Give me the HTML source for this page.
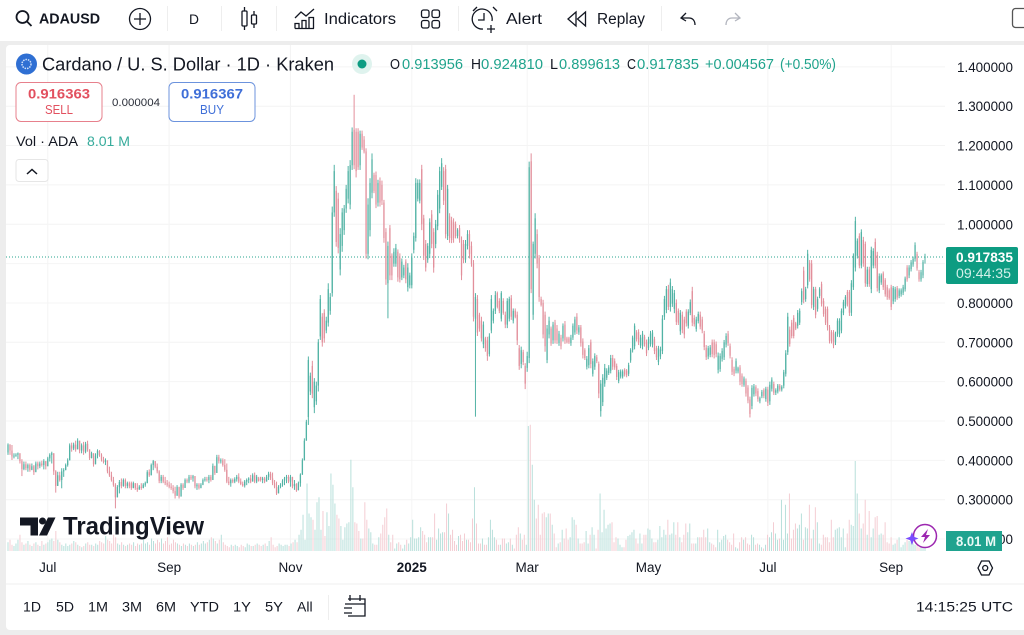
<!DOCTYPE html>
<html lang="en">
<head>
<meta charset="utf-8">
<title>ADAUSD chart</title>
<style>
html,body{margin:0;padding:0;background:#fff;width:1024px;height:635px;overflow:hidden}
svg{display:block;font-family:"Liberation Sans",sans-serif}
text{fill:#131722}
.ic{fill:none;stroke:#131722;stroke-width:1.3}
.up{fill:#1fa38c}
</style>
</head>
<body>
<svg id="page" xmlns="http://www.w3.org/2000/svg" width="1024" height="635" viewBox="0 0 1024 635">
  <rect width="1024" height="635" fill="#ededed"/>
  <rect x="0" y="0" width="1024" height="41" fill="#fff"/>
  <rect x="6" y="45" width="1030" height="585" rx="4" fill="#fff"/>

  <g id="grid"></g>
  <g id="volumes"></g>
  <line x1="6" x2="945" y1="257" y2="257" stroke="#2aa58f" stroke-width="1" stroke-dasharray="1 2"/>
  <g id="candles"></g>
  <g id="price-axis"></g>
  <g id="time-axis"></g>

  <!-- toolbar -->
  <g>
    <circle class="ic" style="stroke-width:1.8" cx="22.5" cy="17" r="6"/><line class="ic" style="stroke-width:1.8" x1="27" y1="21.5" x2="31.5" y2="26"/>
    <text x="39" y="23.5" font-size="15" font-weight="700" textLength="61" lengthAdjust="spacingAndGlyphs">ADAUSD</text>
  </g>
  <g><circle class="ic" cx="140" cy="19" r="10.5"/><path class="ic" d="M134 19h12M140 13v12"/></g>
  <line x1="167.500" x2="167.500" y1="6" y2="31" stroke="#eee"/>
  <text x="189" y="24" font-size="14" textLength="10" lengthAdjust="spacingAndGlyphs">D</text>
  <line x1="221.500" x2="221.500" y1="6" y2="31" stroke="#eee"/>
  <g><rect class="ic" x="242" y="11" width="5" height="15" rx="1"/><path class="ic" d="M244.500 7v4M244.500 26v4M254 11v4M254 24v4"/><rect class="ic" x="251.500" y="15" width="5" height="9" rx="1"/></g>
  <line x1="276.500" x2="276.500" y1="6" y2="31" stroke="#eee"/>
  <g>
    <path class="ic" d="M295 18l6-6 5 4 8-7M295 28.500h19M295 28.500v-5h4v5M302 28.500v-8h4v8M309 28.500v-11h4.500v11"/>
    <text x="324" y="24" font-size="15.500" textLength="72" lengthAdjust="spacingAndGlyphs">Indicators</text>
  </g>
  <g><rect class="ic" x="421.500" y="10" width="7.500" height="7.500" rx="2"/><rect class="ic" x="432" y="10" width="7.500" height="7.500" rx="2"/><rect class="ic" x="421.500" y="20.500" width="7.500" height="7.500" rx="2"/><rect class="ic" x="432" y="20.500" width="7.500" height="7.500" rx="2"/></g>
  <line x1="458.500" x2="458.500" y1="6" y2="31" stroke="#eee"/>
  <g>
    <path class="ic" d="M483 29a10 10 0 1 1 9-8M484 13v7h-6M473 11l4-4M493 7l4 4M491 25v8M487 29h8"/>
    <text x="506" y="24" font-size="15.500" textLength="36" lengthAdjust="spacingAndGlyphs">Alert</text>
  </g>
  <g>
    <path class="ic" d="M576 12l-8 7 8 7zM585.500 12l-8 7 8 7z"/>
    <text x="597" y="24" font-size="15.500" textLength="48" lengthAdjust="spacingAndGlyphs">Replay</text>
  </g>
  <line x1="661.500" x2="661.500" y1="6" y2="31" stroke="#eee"/>
  <path class="ic" d="M686 13l-5 5 5 3M681 18h8c4 0 6 3 6 7"/>
  <path class="ic" style="stroke:#b2b5be" d="M735 13l5 5-5 3M740 18h-8c-4 0-6 3-6 7"/>
  <rect x="1012.500" y="8.500" width="30" height="19" rx="3" fill="none" stroke="#555" stroke-width="1.300"/>

  <!-- legend -->
  <g><circle cx="26.500" cy="64" r="10.500" fill="#2f6fd3"/><circle cx="26.500" cy="64" r="4.500" fill="none" stroke="#cfe0fb" stroke-width="1.500" stroke-dasharray="1.500 1"/></g>
  <text x="42" y="70.500" font-size="18" textLength="292" lengthAdjust="spacingAndGlyphs">Cardano / U. S. Dollar · 1D · Kraken</text>
  <g><circle cx="362" cy="64" r="10" fill="#dff3ee"/><circle cx="362" cy="64" r="4.500" fill="#0d9c82"/></g>
  <g font-size="14.500">
    <text x="390" y="69" textLength="10" lengthAdjust="spacingAndGlyphs">O</text><text class="up" x="402" y="69" textLength="61" lengthAdjust="spacingAndGlyphs">0.913956</text>
    <text x="471" y="69" textLength="10" lengthAdjust="spacingAndGlyphs">H</text><text class="up" x="481" y="69" textLength="62" lengthAdjust="spacingAndGlyphs">0.924810</text>
    <text x="550" y="69" textLength="8" lengthAdjust="spacingAndGlyphs">L</text><text class="up" x="559" y="69" textLength="61" lengthAdjust="spacingAndGlyphs">0.899613</text>
    <text x="627" y="69" textLength="9" lengthAdjust="spacingAndGlyphs">C</text><text class="up" x="637" y="69" textLength="62" lengthAdjust="spacingAndGlyphs">0.917835</text>
    <text class="up" x="705" y="69" textLength="69" lengthAdjust="spacingAndGlyphs">+0.004567</text><text class="up" x="780" y="69" textLength="56" lengthAdjust="spacingAndGlyphs">(+0.50%)</text>
  </g>
  <g>
    <rect x="16" y="82.500" width="86" height="39" rx="5" fill="#fff" stroke="#e7808c"/>
    <text x="28" y="98.500" font-size="14" font-weight="700" style="fill:#e2505f" textLength="62" lengthAdjust="spacingAndGlyphs">0.916363</text>
    <text x="45" y="114" font-size="12.500" style="fill:#e2505f" textLength="28" lengthAdjust="spacingAndGlyphs">SELL</text>
  </g>
  <text x="112" y="106" font-size="11" style="fill:#2a2e39" textLength="48" lengthAdjust="spacingAndGlyphs">0.000004</text>
  <g>
    <rect x="169" y="82.500" width="86" height="39" rx="5" fill="#fff" stroke="#6c93dd"/>
    <text x="181" y="98.500" font-size="14" font-weight="700" style="fill:#3f6fd8" textLength="62" lengthAdjust="spacingAndGlyphs">0.916367</text>
    <text x="200" y="114" font-size="12.500" style="fill:#3f6fd8" textLength="24" lengthAdjust="spacingAndGlyphs">BUY</text>
  </g>
  <text x="16" y="146" font-size="14" textLength="62" lengthAdjust="spacingAndGlyphs">Vol · ADA</text>
  <text class="up" x="87" y="146" font-size="14" style="fill:#35ab9b" textLength="43" lengthAdjust="spacingAndGlyphs">8.01 M</text>
  <g><rect x="16" y="159.500" width="32" height="22" rx="3" fill="#fff" stroke="#e6e6e6"/><path d="M27 174l5-4.500 5 4.500" fill="none" stroke="#131722" stroke-width="1.500"/></g>

  <!-- watermark -->
  <g>
    <path d="M20 517.500h18v18h-7.500v-10h-10.500z" fill="#131722"/><circle cx="42.500" cy="521" r="3.500" fill="#131722"/><path d="M48 517.500h7.500l-8.500 18h-8z" fill="#131722"/>
    <text x="63" y="534.500" font-size="25" font-weight="700" textLength="141" lengthAdjust="spacingAndGlyphs">TradingView</text>
  </g>
  <g>
    <circle cx="925" cy="536" r="11.500" fill="#fff" stroke="#9c27b0" stroke-width="1.500"/>
    <path d="M928 529l-7 8h4l-2 6 7-8h-4z" fill="#9c27b0"/>
    <path d="M912 532l1.800 4.700 4.700 1.800-4.700 1.800-1.800 4.700-1.800-4.700-4.700-1.800 4.700-1.800z" fill="#7a4dff"/>
  </g>

  <!-- axis labels -->
  <g>
    <rect x="946" y="247" width="72" height="37" rx="2" fill="#0d9c82"/>
    <text x="956" y="262" font-size="13.500" font-weight="700" style="fill:#fff" textLength="57" lengthAdjust="spacingAndGlyphs">0.917835</text>
    <text x="956" y="278" font-size="13.500" style="fill:#d2f0e9" textLength="55" lengthAdjust="spacingAndGlyphs">09:44:35</text>
  </g>
  <g>
    <rect x="946" y="531" width="56" height="20" fill="#1fa38f"/>
    <text x="956" y="546" font-size="13.500" font-weight="700" style="fill:#eafaf6" textLength="40" lengthAdjust="spacingAndGlyphs">8.01 M</text>
  </g>
  <g><path class="ic" d="M978 568l3.500-7h7.500l3.500 7-3.500 7h-7.500z"/><circle class="ic" cx="985.200" cy="568" r="2.500"/></g>
  <line x1="6" x2="1024" y1="584" y2="584" stroke="#efefef"/>

  <!-- range bar -->
  <g font-size="14">
    <text x="23" y="611.500" textLength="18" lengthAdjust="spacingAndGlyphs">1D</text>
    <text x="56" y="611.500" textLength="18" lengthAdjust="spacingAndGlyphs">5D</text>
    <text x="88" y="611.500" textLength="20" lengthAdjust="spacingAndGlyphs">1M</text>
    <text x="122" y="611.500" textLength="20" lengthAdjust="spacingAndGlyphs">3M</text>
    <text x="156" y="611.500" textLength="20" lengthAdjust="spacingAndGlyphs">6M</text>
    <text x="190" y="611.500" textLength="29" lengthAdjust="spacingAndGlyphs">YTD</text>
    <text x="233" y="611.500" textLength="18" lengthAdjust="spacingAndGlyphs">1Y</text>
    <text x="265" y="611.500" textLength="18" lengthAdjust="spacingAndGlyphs">5Y</text>
    <text x="297" y="611.500" font-size="14">All</text>
  </g>
  <line x1="328.500" x2="328.500" y1="595" y2="620" stroke="#eee"/>
  <g><path class="ic" d="M348 599h17v17h-17M345 604h20M350 595v6M360 595v6M344 608h8M344 613h8"/></g>
  <text x="916" y="611.500" font-size="14" textLength="97" lengthAdjust="spacingAndGlyphs">14:15:25 UTC</text>
</svg>

<script>
const priceTicks = [1.4,1.3,1.2,1.1,1.0,0.9,0.8,0.7,0.6,0.5,0.4,0.3,0.2];
const timeLabels = ["Jul","Sep","Nov","2025","Mar","May","Jul","Sep"];
const timeBars = [20,81,142,203,261,322,382,444];

const highs = [
.443,.441,.439,.418,.418,.420,.418,.403,.397,.397,.392,.392,.392,.388,.397,.397,.397,.399,.403,.397,.409,.418,.422,.418,.375,
.371,.371,.380,.380,.392,.405,.443,.445,.445,.450,.456,.447,.443,.447,.447,.450,.426,.422,.418,.418,.428,.426,.418,.409,.405,
.397,.384,.371,.358,.342,.337,.350,.354,.354,.354,.346,.346,.346,.346,.342,.342,.337,.342,.342,.346,.375,.377,.392,.401,.397,.392,
.375,.363,.363,.358,.350,.346,.342,.337,.333,.337,.333,.342,.342,.354,.354,.363,.363,.363,.358,.342,.342,.342,.354,.358,.358,
.363,.363,.392,.384,.414,.414,.405,.405,.403,.392,.358,.354,.354,.357,.363,.367,.354,.346,.350,.354,.357,.363,.367,.369,.363,
.358,.358,.358,.358,.363,.371,.371,.369,.350,.346,.337,.342,.352,.358,.363,.363,.363,.350,.350,.342,.346,.367,.405,.456,.503,
.664,.623,.653,.609,.600,.708,.820,.774,.784,.765,.850,.825,1.045,1.151,1.097,1.080,.990,1.041,1.049,1.100,1.148,1.163,1.246,1.329,1.244,1.244,1.238,1.238,1.224,1.193,1.066,1.117,1.180,1.131,1.134,1.113,1.119,1.111,1.062,.990,.956,.998,.926,.939,.950,.936,.926,.913,.897,.911,.901,.877,.926,.979,1.117,1.114,1.114,1.151,1.024,.960,.952,1.015,1.036,.990,1.011,1.087,1.146,1.168,1.145,1.151,1.100,1.028,1.019,1.015,1.007,.990,.998,.969,.960,.960,.985,.985,.956,.909,.825,.820,.775,.765,.753,.714,.714,.723,.820,.786,.830,.829,.812,.830,.812,.778,.812,.816,.820,.786,.786,.778,.693,.689,.681,.647,.676,1.159,1.180,.956,1.028,.987,.922,.816,.808,.778,.744,.765,
.740,.752,.757,.744,.729,.719,.748,.754,.714,.714,.719,.748,.765,.774,.744,.744,.710,.685,.665,.693,.707,.659,.672,.668,.651,.604,.619,.645,.634,.642,.668,.668,.659,.646,.630,.631,.631,.634,.632,.648,.685,.717,.748,.731,.733,.719,.729,.719,.707,.714,.729,.731,.714,.691,.691,.689,.769,.818,.843,.846,.862,.843,.833,.809,.786,.782,.778,.765,.784,.784,.809,.841,.769,.765,.778,.778,.765,.729,.693,.691,.693,.707,.707,.702,.674,.672,.685,.706,.723,.729,.697,.662,.638,.659,.638,.642,.621,.613,.608,.591,.562,.591,.594,.591,.583,.562,.579,.583,.587,.587,.600,.611,.600,.583,.594,.594,.591,.630,.680,.775,.740,.757,.769,.752,.782,
.786,.837,.892,.841,.935,.909,.909,.841,.841,.816,.840,.854,.812,.791,.791,.744,.731,.731,.727,.761,.761,.786,.808,.820,.833,.833,.858,.926,1.019,.964,.977,.987,.968,.956,.892,.892,.943,.939,.964,.930,.875,.875,.880,.863,.846,.837,.846,.843,.841,.843,.837,.837,.846,.867,.896,.896,.909,.918,.954,.930,.884,.884,.909,.925];

const lows = [
.414,.414,.401,.405,.409,.403,.392,.360,.375,.375,.371,.371,.375,.363,.375,.377,.380,.384,.377,.377,.388,.397,.392,.363,.318,
.342,.346,.329,.358,.375,.384,.405,.422,.426,.422,.430,.418,.418,.414,.418,.422,.401,.405,.384,.392,.405,.409,.397,.392,.388,
.367,.358,.346,.333,.278,.308,.316,.329,.333,.329,.329,.329,.325,.329,.325,.320,.325,.325,.329,.333,.342,.358,.363,.375,.380,.367,
.342,.342,.342,.337,.333,.329,.325,.316,.303,.316,.303,.316,.325,.333,.342,.342,.350,.346,.329,.325,.326,.329,.337,.346,.346,
.342,.346,.354,.363,.375,.392,.392,.384,.371,.342,.337,.333,.342,.342,.346,.342,.337,.333,.331,.337,.342,.342,.346,.342,.342,
.346,.346,.342,.342,.346,.350,.350,.337,.329,.312,.325,.329,.333,.337,.342,.342,.333,.329,.325,.320,.325,.333,.363,.405,.456,
.490,.566,.558,.520,.541,.575,.706,.689,.699,.723,.740,.770,.816,1.019,.943,.926,.870,.930,.973,1.029,1.053,1.038,1.138,1.140,1.119,1.138,1.138,1.189,1.180,.913,.911,.969,1.066,1.079,1.041,1.045,1.045,1.049,.953,.846,.761,.858,.858,.892,.892,.854,.852,.858,.863,.850,.829,.837,.837,.926,.956,1.058,1.053,.985,.909,.880,.902,.914,.939,.877,.939,.985,1.028,1.087,1.049,.964,.960,.953,.952,.953,.964,.964,.953,.858,.901,.902,.936,.913,.892,.753,.511,.716,.727,.702,.685,.676,.653,.664,.723,.748,.772,.786,.774,.753,.770,.736,.736,.753,.757,.748,.761,.693,.630,.634,.642,.581,.625,.647,.825,.757,.913,.888,.803,.791,.710,.676,.647,.710,
.691,.696,.697,.696,.691,.682,.702,.696,.697,.696,.691,.706,.719,.721,.719,.689,.659,.655,.631,.634,.634,.613,.630,.647,.558,.511,.538,.587,.604,.617,.621,.630,.630,.604,.596,.608,.608,.613,.611,.614,.648,.674,.682,.702,.693,.685,.682,.689,.665,.680,.689,.687,.670,.655,.642,.657,.670,.757,.774,.782,.778,.790,.774,.744,.744,.719,.723,.710,.740,.735,.769,.741,.740,.727,.748,.733,.723,.680,.655,.657,.662,.662,.659,.662,.621,.625,.651,.655,.687,.691,.659,.617,.614,.621,.621,.591,.587,.587,.562,.545,.509,.530,.562,.563,.549,.545,.558,.558,.549,.538,.541,.575,.566,.566,.570,.575,.575,.583,.613,.668,.689,.710,.710,.731,.735,
.744,.795,.799,.803,.837,.854,.786,.782,.761,.778,.812,.791,.765,.744,.730,.697,.697,.685,.693,.714,.713,.723,.769,.786,.791,.767,.767,.833,.880,.913,.888,.888,.892,.841,.841,.841,.825,.888,.888,.829,.825,.846,.833,.816,.808,.808,.782,.797,.803,.808,.812,.816,.820,.829,.854,.863,.880,.892,.905,.882,.854,.854,.863,.900];

const opens = [
.420,.440,.425,.410,.412,.414,.418,.398,.378,.390,.380,.388,.376,.385,.370,.392,.385,.392,.388,.398,.385,.405,.414,.418,.372,
.335,.362,.350,.372,.375,.388,.400,.438,.430,.440,.428,.450,.425,.438,.422,.442,.428,.406,.418,.390,.412,.424,.414,.402,.396,
.400,.372,.362,.350,.338,.306,.332,.345,.335,.350,.335,.342,.342,.330,.342,.330,.326,.333,.330,.338,.342,.370,.362,.388,.398,.384,
.372,.348,.358,.346,.342,.338,.333,.330,.322,.310,.332,.308,.338,.330,.350,.346,.358,.354,.360,.334,.338,.330,.338,.350,.352,
.350,.358,.350,.386,.368,.408,.398,.400,.388,.376,.346,.342,.350,.346,.352,.358,.346,.340,.336,.346,.350,.354,.346,.362,.346,
.354,.358,.350,.354,.346,.358,.366,.354,.342,.333,.316,.332,.338,.348,.354,.358,.346,.358,.334,.340,.324,.342,.364,.400,.450,
.510,.575,.640,.535,.550,.590,.715,.765,.775,.730,.750,.780,.825,1.030,1.085,1.065,.885,.945,.985,1.040,1.065,1.050,1.150,1.240,1.235,1.235,1.150,1.230,1.215,1.185,.925,.985,1.080,1.125,1.125,1.055,1.110,1.100,1.055,.980,.850,.990,.920,.900,.900,.930,.915,.865,.870,.905,.840,.845,.845,.935,.965,1.065,1.060,1.140,1.015,.950,.910,.925,1.025,.980,.950,.995,1.040,1.095,1.135,1.140,.970,1.020,1.010,1.005,1.000,.970,.990,.960,.950,.910,.945,.975,.945,.900,.760,.810,.770,.755,.695,.710,.705,.670,.730,.755,.780,.825,.805,.760,.805,.770,.745,.760,.812,.755,.780,.770,.685,.645,.675,.640,.635,.660,1.160,.770,.925,.975,.915,.810,.800,.770,.655,.720,
.735,.705,.750,.735,.698,.712,.710,.745,.710,.710,.698,.712,.725,.765,.725,.738,.702,.680,.638,.642,.700,.620,.638,.662,.645,.525,.548,.595,.610,.622,.628,.660,.652,.640,.602,.613,.613,.630,.628,.620,.654,.680,.690,.725,.726,.692,.690,.714,.700,.686,.696,.694,.708,.685,.650,.664,.678,.765,.782,.835,.790,.798,.785,.800,.780,.728,.770,.758,.778,.742,.775,.830,.762,.734,.754,.770,.758,.722,.686,.664,.668,.700,.700,.695,.630,.632,.658,.662,.694,.722,.690,.655,.632,.628,.626,.636,.615,.592,.602,.585,.555,.538,.568,.586,.576,.550,.563,.578,.556,.580,.550,.582,.594,.572,.575,.590,.580,.590,.620,.675,.732,.750,.762,.748,.742,
.750,.802,.882,.810,.845,.902,.900,.790,.835,.785,.818,.848,.805,.785,.785,.738,.726,.725,.700,.722,.720,.730,.775,.792,.828,.828,.775,.840,.890,.920,.970,.895,.960,.950,.848,.885,.835,.895,.955,.922,.832,.852,.875,.858,.840,.832,.840,.804,.810,.838,.818,.822,.826,.835,.890,.870,.886,.898,.912,.924,.878,.860,.870,.914];

const closes = [
.440,.425,.410,.412,.414,.418,.398,.378,.390,.380,.388,.376,.385,.370,.392,.385,.392,.388,.398,.385,.405,.414,.418,.372,.335,
.362,.350,.372,.375,.388,.400,.438,.430,.440,.428,.450,.425,.438,.422,.442,.428,.406,.418,.390,.412,.424,.414,.402,.396,.400,
.372,.362,.350,.338,.306,.332,.345,.335,.350,.335,.342,.334,.330,.342,.330,.326,.333,.330,.338,.342,.370,.362,.388,.398,.384,.372,
.348,.358,.346,.342,.338,.333,.330,.322,.310,.332,.308,.338,.330,.350,.346,.358,.354,.360,.334,.338,.330,.338,.350,.352,.350,
.358,.350,.386,.368,.408,.398,.400,.388,.376,.346,.342,.350,.346,.352,.358,.346,.340,.336,.346,.350,.354,.346,.362,.346,.358,
.348,.350,.354,.346,.358,.366,.354,.342,.333,.316,.332,.338,.348,.354,.358,.346,.358,.334,.340,.324,.342,.364,.400,.450,.498,
.655,.615,.570,.600,.590,.700,.810,.700,.710,.755,.835,.815,1.030,1.135,.955,.940,.975,1.030,1.040,1.090,1.135,1.150,1.235,1.150,1.135,1.145,1.230,1.195,1.185,.925,1.050,1.105,1.165,1.085,1.050,1.105,1.055,1.060,.965,.860,.945,.870,.870,.930,.940,.865,.860,.905,.890,.860,.890,.870,.915,.970,1.105,1.105,1.105,1.000,.920,.890,.945,1.005,.950,.890,1.000,1.075,1.135,1.155,1.060,.975,1.090,.965,.960,.965,.970,.985,.960,.870,.910,.950,.975,.925,.900,.765,.815,.725,.735,.710,.745,.685,.665,.715,.810,.780,.820,.790,.780,.825,.775,.745,.805,.810,.765,.780,.765,.705,.640,.680,.650,.595,.665,1.145,.835,.950,1.015,.900,.815,.795,.720,.690,.735,.755,
.697,.745,.705,.705,.722,.690,.742,.705,.700,.700,.712,.742,.758,.730,.738,.698,.668,.660,.658,.685,.645,.652,.665,.652,.570,.595,.610,.635,.628,.636,.660,.638,.636,.612,.624,.626,.626,.618,.616,.642,.680,.712,.742,.708,.700,.712,.722,.695,.672,.708,.722,.725,.678,.662,.685,.682,.760,.810,.835,.790,.852,.835,.825,.752,.750,.775,.732,.720,.748,.778,.802,.750,.746,.758,.772,.740,.730,.688,.662,.685,.687,.670,.668,.670,.666,.665,.678,.700,.716,.698,.666,.625,.620,.652,.634,.600,.594,.608,.570,.552,.518,.584,.588,.570,.556,.558,.574,.564,.582,.546,.592,.605,.572,.578,.590,.580,.587,.624,.672,.765,.696,.716,.716,.735,.775,
.780,.830,.808,.835,.925,.860,.795,.835,.770,.810,.835,.798,.772,.750,.738,.704,.702,.692,.722,.755,.755,.780,.802,.815,.796,.775,.850,.920,1.008,.958,.895,.980,.900,.850,.885,.848,.935,.932,.895,.838,.868,.870,.840,.822,.815,.812,.790,.838,.835,.814,.832,.832,.840,.862,.860,.890,.903,.912,.947,.888,.860,.878,.904,.918];

const volumes = [
7,9,5,4,6,9,13,7,5,6,8,5,4,6,7,5,4,8,5,6,7,9,10,8,16,
9,7,5,4,6,4,5,6,8,7,5,4,3,4,6,7,5,5,4,6,5,8,7,6,12,
9,8,6,13,11,6,5,7,5,4,5,6,5,7,4,6,5,6,9,6,7,5,10,8,6,
9,7,10,6,8,11,5,6,9,7,6,5,4,6,5,4,6,5,4,5,7,5,6,8,6,
7,9,11,10,8,6,9,13,7,5,4,3,5,4,5,4,3,5,4,3,6,5,4,4,5,
6,5,4,5,6,4,8,11,5,3,4,6,5,4,5,5,4,6,7,9,7,
13,17,29,9,54,30,27,25,17,39,43,17,32,12,31,20,62,53,38,29,26,20,9,19,22,23,73,51,23,22,16,10,10,39,25,18,15,6,5,5,11,14,21,27,34,13,7,13,2,6,7,5,2,5,9,6,11,25,10,10,11,19,16,13,7,11,11,11,30,9,18,14,15,15,38,30,13,17,8,5,12,13,8,14,9,9,7,26,51,22,6,6,10,5,5,11,25,17,11,9,5,5,10,10,6,7,10,5,2,13,19,14,9,13,5,100,101,69,41,26,37,13,30,31,27,30,30,21,14,3,6,7,17,10,18,9,11,27,25,21,10,6,6,7,16,6,13,19,13,2,17,46,15,33,18,21,22,23,7,11,10,5,3,3,9,12,13,15,17,10,6,14,6,13,13,18,17,10,7,7,9,20,11,17,13,25,13,14,23,13,23,11,7,13,22,15,22,6,6,6,11,
11,11,17,11,18,7,6,5,3,17,7,9,12,13,9,7,5,14,3,2,7,11,9,11,6,5,13,11,5,6,5,3,2,5,13,11,15,23,14,9,10,41,9,37,14,46,10,17,22,18,21,30,9,19,18,37,10,17,35,23,6,5,13,11,11,7,25,11,17,18,19,11,18,3,14,25,21,20,72,46,30,18,22,41,13,32,11,18,27,28,13,14,13,23,7,6,11,5,6,9,11,3,5,7,9,8,7,6,5,5,3,3,3,8.01];

const plotLeft = 8, plotRight = 925;
const svgNS = "http://www.w3.org/2000/svg";
function xScale(i, len){ return plotLeft + i * (plotRight - plotLeft) / (len - 1); }
function yScale(p){ return 421 - (p - 0.5) * 393.5; }
function volHeight(v){ return v * 1.25; }
function make(tag, attrs){
  const el = document.createElementNS(svgNS, tag);
  for (const k in attrs) el.setAttribute(k, attrs[k]);
  return el;
}
const gridG = document.getElementById('grid');
const priceG = document.getElementById('price-axis');
const timeG = document.getElementById('time-axis');
const volG = document.getElementById('volumes');
const candleG = document.getElementById('candles');
const n = closes.length;

priceTicks.forEach(function(p){
  const y = yScale(p);
  const line = make('line', {x1:6, x2:945, y1:y, y2:y, stroke:'#f4f4f4', 'stroke-width':1});
  
  
  gridG.appendChild(line);
  const label = make('text', {x:957, y:y + 5, 'font-size':13.5, textLength:56, lengthAdjust:'spacingAndGlyphs'});
  label.textContent = p.toFixed(6);
  
  
  priceG.appendChild(label);
});

timeLabels.forEach(function(t, k){
  const x = xScale(timeBars[k], n);
  const line = make('line', {x1:x, x2:x, y1:45, y2:551, stroke:'#f4f4f4', 'stroke-width':1});
  
  
  gridG.appendChild(line);
  const label = make('text', {x:x, y:572, 'font-size':13.5, 'text-anchor':'middle', 'font-weight':t === '2025' ? 700 : 400});
  label.textContent = t;
  
  
  timeG.appendChild(label);
});

volumes.forEach(function(v, i){
  const k = Math.min(Math.round(i * (n - 1) / (volumes.length - 1)), n - 1);
  const up = closes[k] >= opens[k];
  const h = volHeight(v);
  const bar = make('rect', {x:xScale(i, volumes.length) - 0.5, y:551 - h, width:1, height:h, fill:up ? '#b8e0db' : '#f4cdd3'});
  
  
  volG.appendChild(bar);
});

closes.forEach(function(c, i){
  const o = opens[i];
  const up = c >= o;
  const col = up ? '#52b3a5' : '#e28f9b';
  const x = xScale(i, n);
  const wick = make('line', {x1:x, x2:x, y1:yScale(Math.max(highs[i], o, c)), y2:yScale(Math.min(lows[i], o, c)), stroke:col, 'stroke-width':1});
  
  
  candleG.appendChild(wick);
  const top = yScale(Math.max(o, c));
  const body = make('rect', {x:x - 0.65, y:top, width:1.3, height:Math.max(1, yScale(Math.min(o, c)) - top), fill:col});
  
  
  candleG.appendChild(body);
});
</script>
</body>
</html>
